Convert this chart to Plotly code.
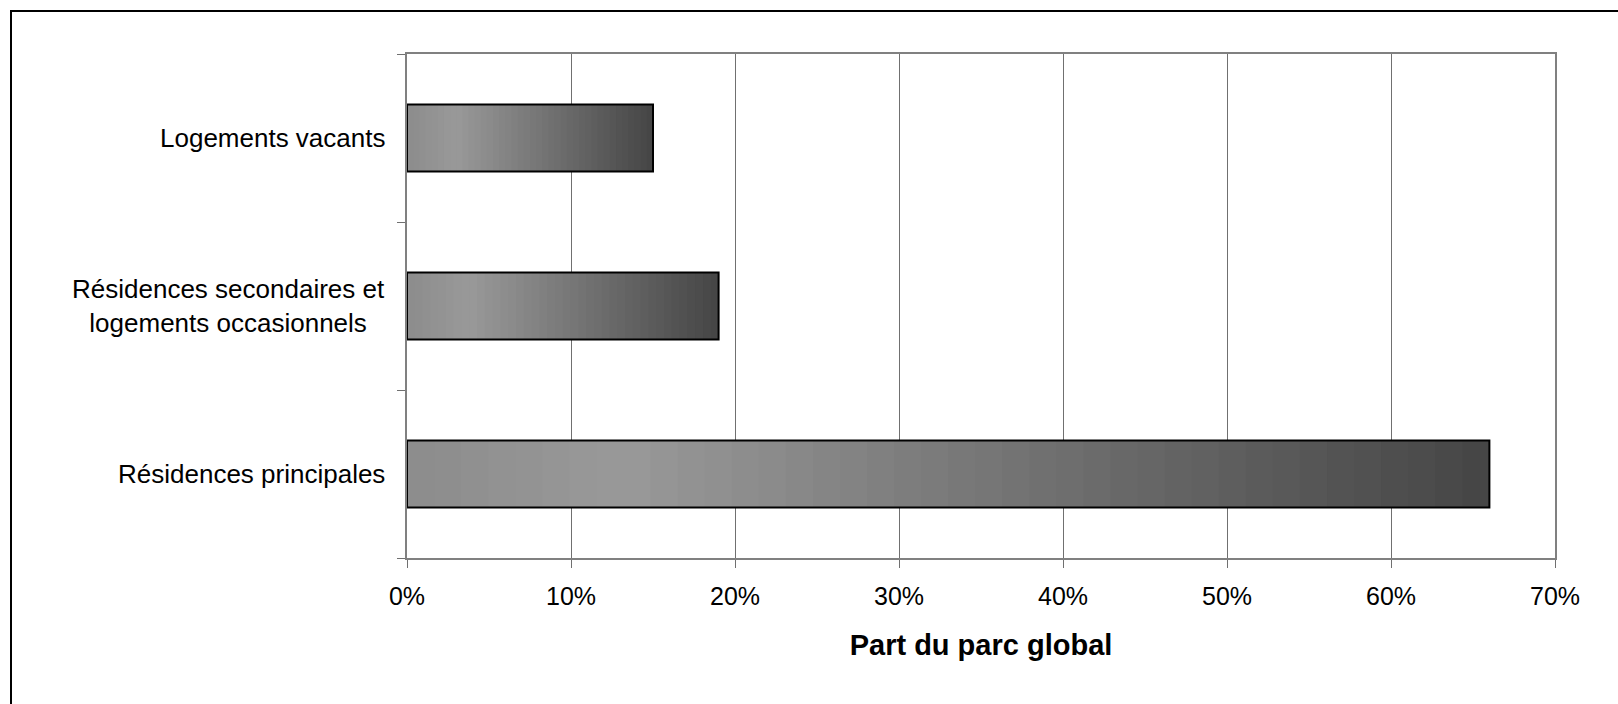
import plotly.graph_objects as go

# ---- data ----
categories = ["Résidences principales",
              "Résidences secondaires et<br>logements occasionnels",
              "Logements vacants"]
values = [0.66, 0.19, 0.15]
x_tick_values = [0, 0.1, 0.2, 0.3, 0.4, 0.5, 0.6, 0.7]
x_tick_labels = ["0%", "10%", "20%", "30%", "40%", "50%", "60%", "70%"]
x_title = "Part du parc global"

FONT = "Arial, 'Liberation Sans', sans-serif"
N_SEG = 40
BAR_W = 0.4


def grad_color(t):
    # light grey near the left, darkening to the right
    if t < 0.2:
        v = 0x8c + (0x99 - 0x8c) * (t / 0.2)
    else:
        v = 0x99 + (0x45 - 0x99) * ((t - 0.2) / 0.8)
    v = int(round(v))
    return f"rgb({v},{v},{v})"


fig = go.Figure()

# gradient fill: each segment spans from its start to the bar end, drawn in order
for k in range(N_SEG):
    t = (k + 0.5) / N_SEG
    fig.add_trace(go.Bar(
        y=categories,
        x=[v * (N_SEG - k) / N_SEG for v in values],
        base=[v * k / N_SEG for v in values],
        orientation="h",
        width=BAR_W,
        marker=dict(color=grad_color(t), line=dict(width=0)),
        hoverinfo="skip",
        showlegend=False,
    ))

# black outline
fig.add_trace(go.Bar(
    y=categories,
    x=values,
    orientation="h",
    width=BAR_W,
    marker=dict(color="rgba(0,0,0,0)", line=dict(color="black", width=2)),
    hoverinfo="skip",
    showlegend=False,
))

# category labels (centered multi-line text, right aligned to the axis)
for c in categories:
    fig.add_annotation(
        x=0, xref="paper", y=c, yref="y",
        text=c, showarrow=False,
        xanchor="right", yanchor="middle", align="center",
        xshift=-20,
        font=dict(family=FONT, size=26, color="black"),
    )

fig.update_layout(
    width=1618, height=704,
    margin=dict(l=407, r=63, t=54, b=146),
    paper_bgcolor="white",
    plot_bgcolor="white",
    barmode="overlay",
    font=dict(family=FONT, size=25, color="black"),
    shapes=[dict(type="rect", xref="paper", yref="paper",
                 x0=(11 - 407) / 1148, x1=(1640 - 407) / 1148,
                 y0=(558 - 730) / 504, y1=(558 - 11) / 504,
                 line=dict(color="black", width=2), layer="below")],
)

fig.update_xaxes(
    range=[0, 0.7],
    tickvals=x_tick_values, ticktext=x_tick_labels,
    ticks="outside", ticklen=8, tickwidth=1, tickcolor="#707070",
    ticklabelstandoff=7,
    showgrid=True, gridcolor="#707070", gridwidth=1,
    showline=True, linecolor="#808080", linewidth=2, mirror=True,
    zeroline=False,
    tickfont=dict(family=FONT, size=25, color="black"),
    title=dict(text="<b>" + x_title + "</b>",
               font=dict(family=FONT, size=29, color="black"), standoff=26),
    fixedrange=True,
)
fig.update_yaxes(
    categoryorder="array", categoryarray=categories,
    tickson="boundaries", ticks="outside", ticklen=8, tickwidth=1, tickcolor="#707070",
    showticklabels=False,
    showgrid=False,
    showline=True, linecolor="#808080", linewidth=2, mirror=True,
    zeroline=False,
    fixedrange=True,
)

fig.write_html("out.html")
